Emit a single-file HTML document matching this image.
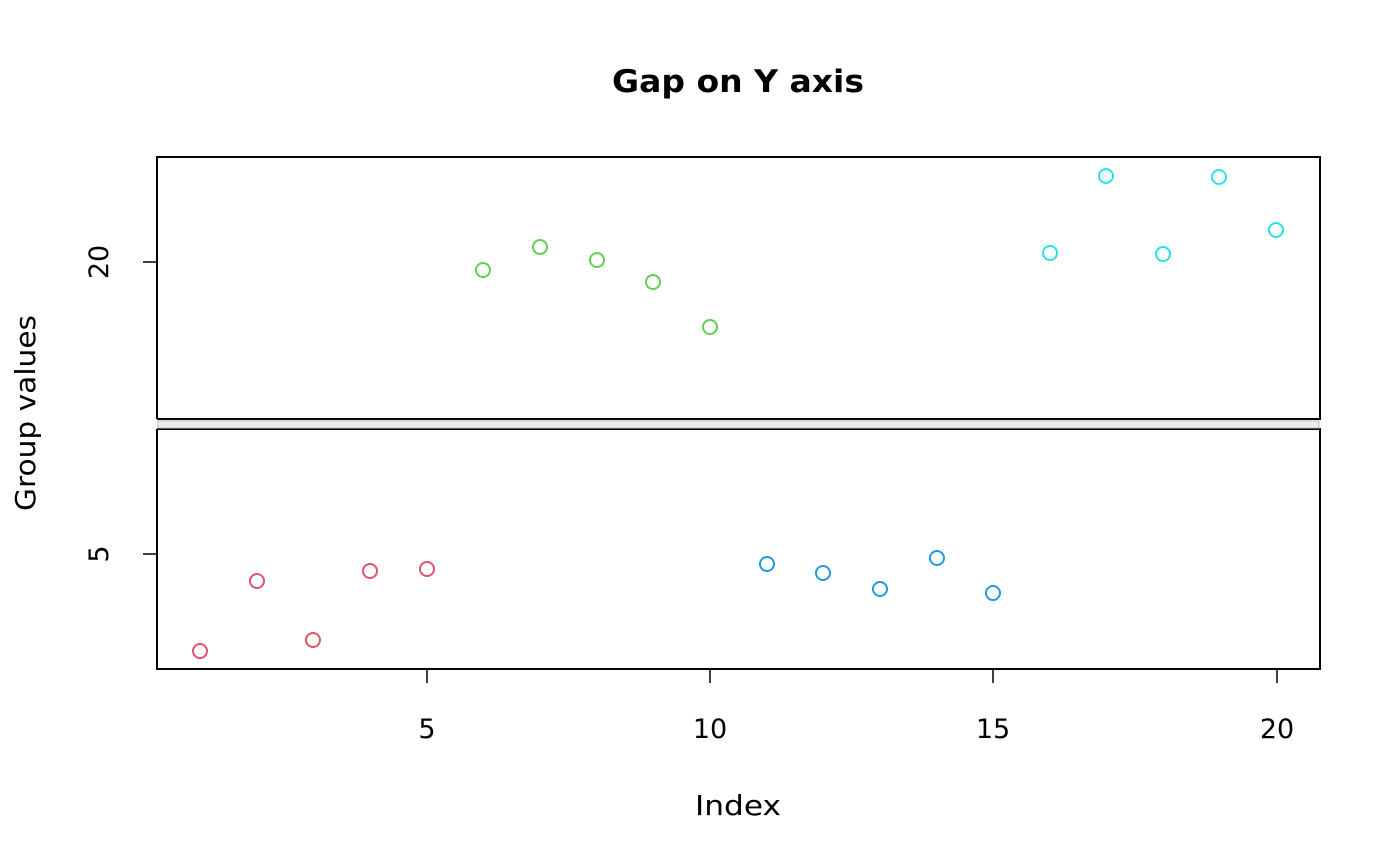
<!DOCTYPE html>
<html><head><meta charset="utf-8"><style>body{margin:0;background:#fff}svg{display:block}</style></head>
<body>
<svg width="1400" height="866" xmlns="http://www.w3.org/2000/svg" font-family="DejaVu Sans, Liberation Sans, sans-serif">
<rect width="1400" height="866" fill="#fff"/>
<text x="738" y="92" font-size="31" font-weight="bold" text-anchor="middle" textLength="252" lengthAdjust="spacingAndGlyphs">Gap on Y axis</text>
<g fill="none" stroke="#000" stroke-width="2">
<path d="M157,419 V157 H1320 V419 H157"/>
<path d="M157,429 V669 H1320 V429 H157"/>
</g>
<rect x="158" y="421" width="1161" height="7" fill="#ececec" stroke="#bbb" stroke-width="1"/>
<g stroke="#000" stroke-width="1.5">
<line x1="157" y1="262" x2="143" y2="262"/>
<line x1="157" y1="554" x2="143" y2="554"/>
<line x1="427" y1="669" x2="427" y2="683"/>
<line x1="710" y1="669" x2="710" y2="683"/>
<line x1="993" y1="669" x2="993" y2="683"/>
<line x1="1277" y1="669" x2="1277" y2="683"/>
</g>
<g font-size="27" text-anchor="middle">
<text x="427" y="738">5</text><text x="710" y="738">10</text><text x="993" y="738">15</text><text x="1277" y="738">20</text>
<text transform="translate(108,262) rotate(-90)">20</text>
<text transform="translate(108,554) rotate(-90)">5</text>
<text x="738" y="815" font-size="28" textLength="86" lengthAdjust="spacingAndGlyphs">Index</text>
<text transform="translate(35,413) rotate(-90)" font-size="28" textLength="196" lengthAdjust="spacingAndGlyphs">Group values</text>
</g>
<g fill="none" stroke-width="2">
<g stroke="#df536b">
<circle cx="200" cy="651" r="7"/><circle cx="257" cy="581" r="7"/><circle cx="313" cy="640" r="7"/><circle cx="370" cy="571" r="7"/><circle cx="427" cy="569" r="7"/>
</g>
<g stroke="#61d04f">
<circle cx="483" cy="270" r="7"/><circle cx="540" cy="247" r="7"/><circle cx="597" cy="260" r="7"/><circle cx="653" cy="282" r="7"/><circle cx="710" cy="327" r="7"/>
</g>
<g stroke="#2297e6">
<circle cx="767" cy="564" r="7"/><circle cx="823" cy="573" r="7"/><circle cx="880" cy="589" r="7"/><circle cx="937" cy="558" r="7"/><circle cx="993" cy="593" r="7"/>
</g>
<g stroke="#28e2e5">
<circle cx="1050" cy="253" r="7"/><circle cx="1106" cy="176" r="7"/><circle cx="1163" cy="254" r="7"/><circle cx="1219" cy="177" r="7"/><circle cx="1276" cy="230" r="7"/>
</g>
</g>
</svg>
</body></html>
